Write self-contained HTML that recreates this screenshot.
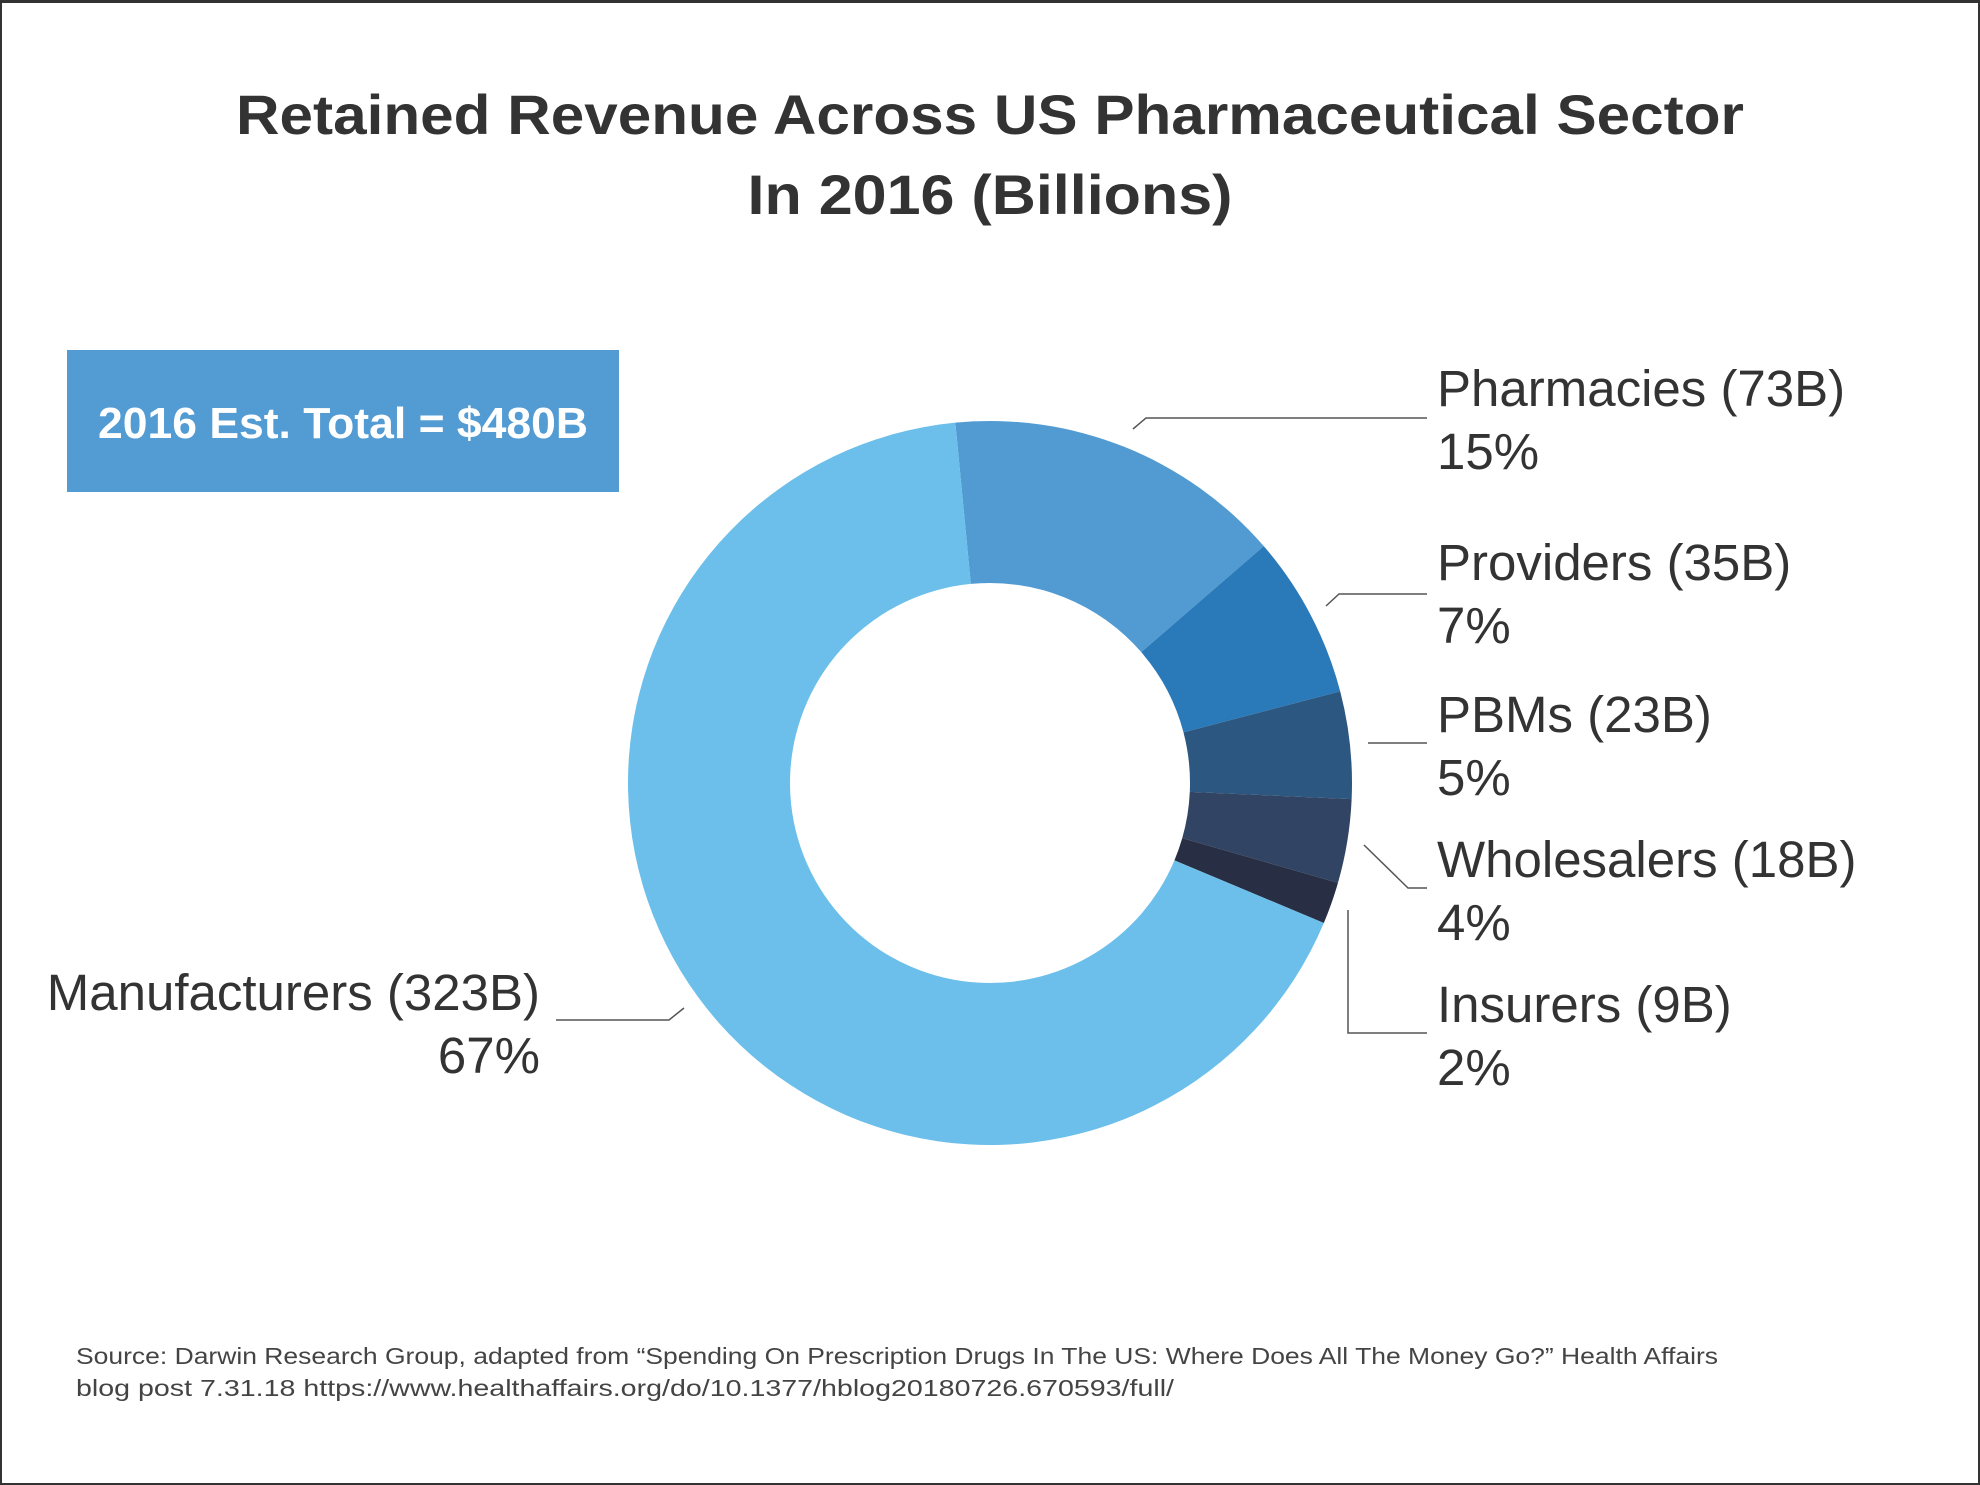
<!DOCTYPE html>
<html><head><meta charset="utf-8"><style>
html,body{margin:0;padding:0;background:#fff}
svg{display:block}
text{font-family:"Liberation Sans",sans-serif;fill:#333}
</style></head><body>
<svg id="chart" width="1980" height="1485" viewBox="0 0 1980 1485">
<rect x="1" y="2" width="1978" height="1482" fill="#fff" stroke="#333" stroke-width="2"/>
<line x1="0" y1="1.5" x2="1980" y2="1.5" stroke="#333" stroke-width="3"/>
<text x="990" y="134" text-anchor="middle" font-size="56" font-weight="bold" textLength="1508" lengthAdjust="spacingAndGlyphs">Retained Revenue Across US Pharmaceutical Sector</text>
<text x="990" y="214" text-anchor="middle" font-size="56" font-weight="bold" textLength="485" lengthAdjust="spacingAndGlyphs">In 2016 (Billions)</text>
<rect x="67" y="350" width="552" height="142" fill="#529bd3"/>
<text x="343" y="438" text-anchor="middle" font-size="44" font-weight="bold" style="fill:#fff" textLength="490" lengthAdjust="spacingAndGlyphs">2016 Est. Total = $480B</text>
<g id="slices"></g>
<g id="labels"></g>
<g stroke="#555" stroke-width="1.5" fill="none">
<polyline points="1133,429 1146,418 1427,418"/>
<polyline points="1326,606 1339,594 1427,594"/>
<polyline points="1368,743 1427,743"/>
<polyline points="1364,845 1408,888 1427,888"/>
<polyline points="1348,910 1348,1033 1427,1033"/>
<polyline points="556,1020 669,1020 684,1008"/>
</g>
<text x="76" y="1364" font-size="23" style="fill:#444" textLength="1642" lengthAdjust="spacingAndGlyphs">Source: Darwin Research Group, adapted from “Spending On Prescription Drugs In The US: Where Does All The Money Go?” Health Affairs</text>
<text x="76" y="1396" font-size="23" style="fill:#444" textLength="1098" lengthAdjust="spacingAndGlyphs">blog post 7.31.18  https://www.healthaffairs.org/do/10.1377/hblog20180726.670593/full/</text>
</svg>
<script>
const categories = ["Pharmacies","Providers","PBMs","Wholesalers","Insurers","Manufacturers"];
const values = [73,35,23,18,9,323];
const percentLabels = ["15%","7%","5%","4%","2%","67%"];
const colors = ["#519bd2","#2a7aba","#2c5780","#324464","#282f44","#6bbfea"];
const cx=990, cy=783, R=362, r=200, startDeg=-5.5;
const NS="http://www.w3.org/2000/svg";
const total = values.reduce((a,b)=>a+b,0);
function pt(deg,rad){const a=(deg-90)*Math.PI/180;return [cx+rad*Math.cos(a),cy+rad*Math.sin(a)];}
let ang=startDeg;
const g=document.getElementById('slices');
values.forEach((v,i)=>{
  const sweep=v/total*360, a0=ang, a1=ang+sweep; ang=a1;
  const large=sweep>180?1:0;
  const p0=pt(a0,R),p1=pt(a1,R),q1=pt(a1,r),q0=pt(a0,r);
  const p=document.createElementNS(NS,'path');
  p.setAttribute('d',`M${p0[0]},${p0[1]} A${R},${R} 0 ${large} 1 ${p1[0]},${p1[1]} L${q1[0]},${q1[1]} A${r},${r} 0 ${large} 0 ${q0[0]},${q0[1]} Z`);
  p.setAttribute('fill',colors[i]);
  
  
  g.appendChild(p);
});
const lx=[1437,1437,1437,1437,1437,540];
const ly=[406,580,732,877,1022,1010];
const lg=document.getElementById('labels');
categories.forEach((c,i)=>{
  const anchor=i===5?'end':'start';
  const t1=document.createElementNS(NS,'text');
  t1.setAttribute('x',lx[i]);t1.setAttribute('y',ly[i]);
  t1.setAttribute('font-size','51');t1.setAttribute('text-anchor',anchor);
  t1.textContent=c+' ('+values[i]+'B)';
  
  
  lg.appendChild(t1);
  const t2=document.createElementNS(NS,'text');
  t2.setAttribute('x',lx[i]);t2.setAttribute('y',ly[i]+63);
  t2.setAttribute('font-size','51');t2.setAttribute('text-anchor',anchor);
  t2.textContent=percentLabels[i];
  
  
  lg.appendChild(t2);
});
</script>
</body></html>
